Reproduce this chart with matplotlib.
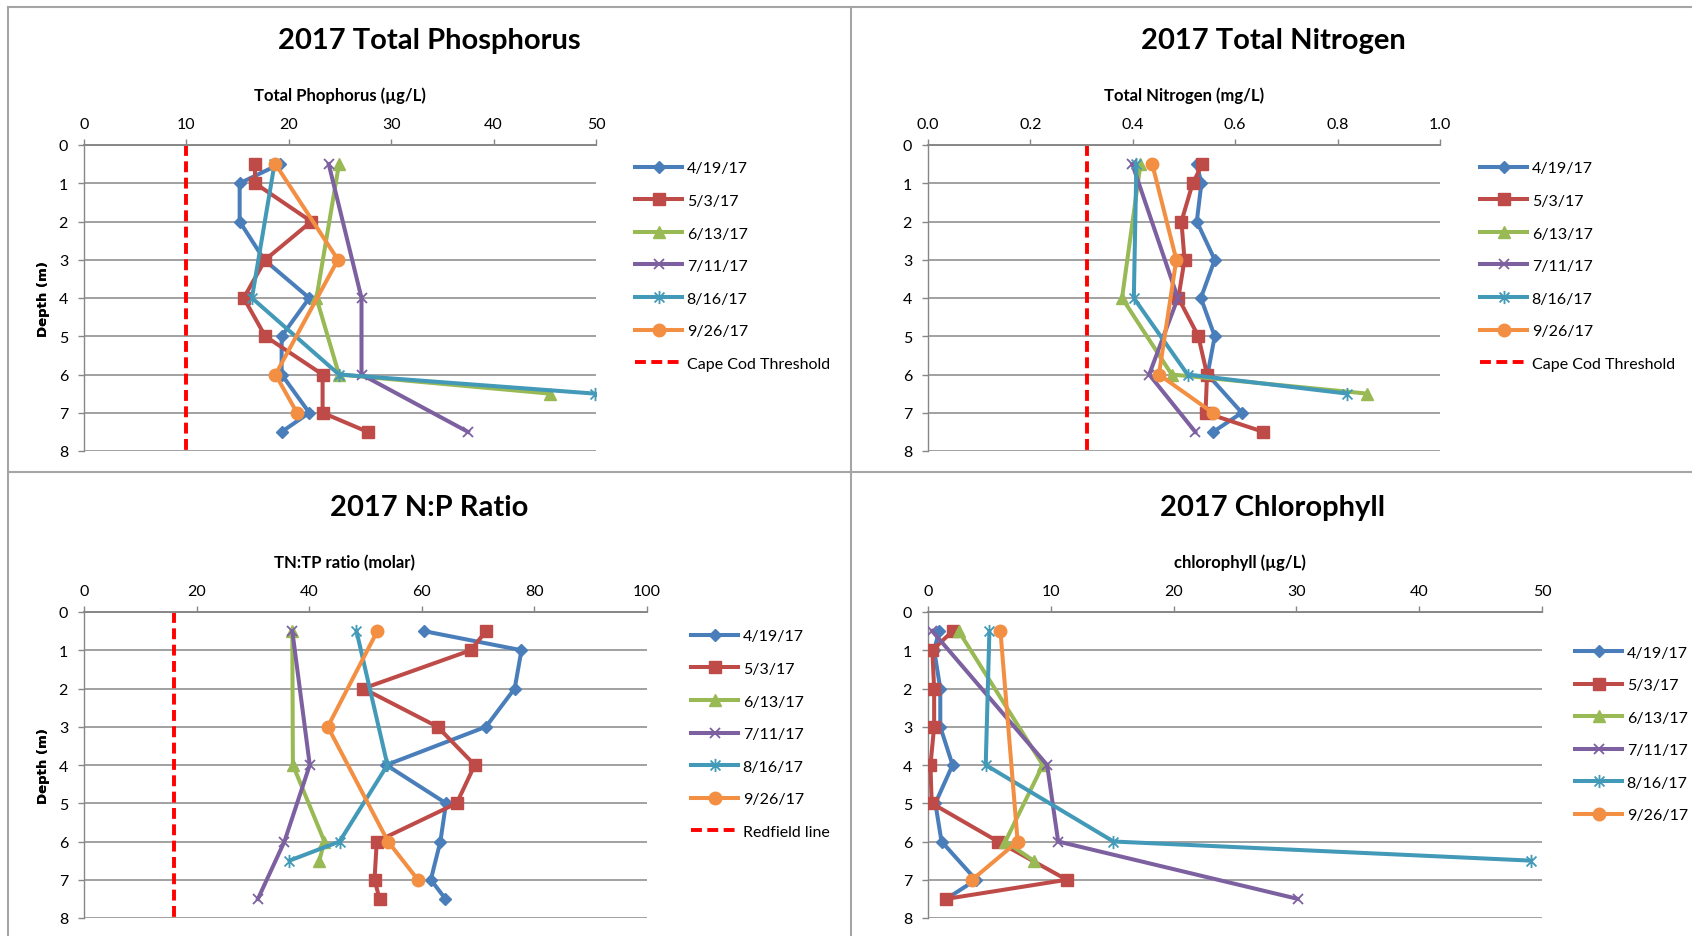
import matplotlib
matplotlib.use("Agg")
import matplotlib.pyplot as plt
from matplotlib.path import Path
from matplotlib.lines import Line2D

plt.rcParams['font.family'] = ['Lato', 'DejaVu Sans']

# ---- data ----
dates = ['4/19/17', '5/3/17', '6/13/17', '7/11/17', '8/16/17', '9/26/17']

depth_full = [0.5, 1, 2, 3, 4, 5, 6, 7, 7.5]
depth_jun = [0.5, 4, 6, 6.5]
depth_jul = [0.5, 4, 6, 7.5]
depth_aug = [0.5, 4, 6, 6.5]
depth_sep = [0.5, 3, 6, 7]
depth_sep_chl = [0.5, 6, 7]

# total phosphorus (ug/L)
tp_apr = [19.1, 15.2, 15.2, 17.6, 22.0, 19.3, 19.3, 22.0, 19.3]
tp_may = [16.7, 16.7, 22.2, 17.7, 15.6, 17.7, 23.3, 23.3, 27.7]
tp_jun = [24.9, 22.7, 24.9, 45.5]
tp_jul = [23.9, 27.1, 27.1, 37.5]
tp_aug = [18.6, 16.4, 24.9, 49.9]
tp_sep = [18.7, 24.8, 18.7, 20.8]

# total nitrogen (mg/L)
tn_apr = [0.525, 0.534, 0.525, 0.560, 0.533, 0.560, 0.546, 0.613, 0.557]
tn_may = [0.536, 0.517, 0.495, 0.501, 0.489, 0.528, 0.545, 0.542, 0.655]
tn_jun = [0.415, 0.379, 0.476, 0.858]
tn_jul = [0.399, 0.488, 0.432, 0.522]
tn_aug = [0.407, 0.402, 0.507, 0.819]
tn_sep = [0.438, 0.485, 0.451, 0.556]

# TN:TP molar ratio
np_apr = [60.4, 77.7, 76.5, 71.4, 53.7, 64.3, 63.3, 61.6, 64.2]
np_may = [71.4, 68.7, 49.6, 62.8, 69.4, 66.2, 52.0, 51.6, 52.5]
np_jun = [37.0, 37.1, 42.7, 41.8]
np_jul = [37.0, 40.1, 35.6, 30.9]
np_aug = [48.4, 53.9, 45.4, 36.5]
np_sep = [52.1, 43.3, 54.0, 59.3]

# chlorophyll (ug/L)
chl_apr = [0.9, 0.5, 1.0, 1.0, 2.0, 0.6, 1.1, 3.9, 1.5]
chl_may = [2.0, 0.35, 0.5, 0.5, 0.2, 0.3, 5.7, 11.3, 1.5]
chl_jun = [2.5, 9.35, 6.3, 8.6]
chl_jul = [0.35, 9.7, 10.6, 30.1]
chl_aug = [5.0, 4.7, 15.1, 49.1]
chl_sep = [5.9, 7.3, 3.6]

tp_threshold = 10
tn_threshold = 0.31
redfield = 16

# ---- style ----
colors = ['#4A7EBB', '#BE4B48', '#98B954', '#7D60A0', '#4299B8', '#F38F43']
star = Path([(0, -1), (0, 1), (-0.75, -0.75), (0.75, 0.75), (-0.75, 0.75), (0.75, -0.75)],
            [Path.MOVETO, Path.LINETO, Path.MOVETO, Path.LINETO, Path.MOVETO, Path.LINETO])
markers = [dict(marker='D', ms=6.5),
           dict(marker='s', ms=8.5),
           dict(marker='^', ms=8.5),
           dict(marker='x', ms=7.5, mew=1.3),
           dict(marker=star, ms=9.5, mew=1.3, mfc='none'),
           dict(marker='o', ms=9)]
grid_col = '#878787'
W, H = 1692, 937

fig = plt.figure(figsize=(W / 100, H / 100), dpi=100)


def px_rect(l, t, r, b):
    return [l / W, 1 - b / H, (r - l) / W, (b - t) / H]


def panel(rect, title, title_xy, xlabel, xlabel_xy, xmax, xticks, xfmt, depths, series,
          thresh, thresh_label, leg_xy):
    ax = fig.add_axes(px_rect(*rect))
    for i, (d, v) in enumerate(zip(depths, series)):
        ax.plot(v, d, color=colors[i], lw=2.9, mec=colors[i], label=dates[i],
                zorder=3 + i, **markers[i])
    if thresh is not None:
        ax.plot([thresh, thresh], [0, 8], color='#FF0000', lw=2.8, dashes=(2.8, 1.4),
                label=thresh_label, zorder=2)
    ax.set_xlim(0, xmax)
    ax.set_ylim(8, 0)
    ax.set_yticks(range(0, 9))
    ax.set_xticks(xticks)
    ax.set_xticklabels([xfmt.format(t) for t in xticks])
    ax.xaxis.tick_top()
    ax.tick_params(axis='x', length=4, width=1, color=grid_col, pad=6, labelsize=11.5)
    ax.tick_params(axis='y', length=4.5, width=1, color=grid_col, pad=7, labelsize=11.5)
    ax.grid(axis='y', color=grid_col, lw=1.1)
    ax.set_axisbelow(True)
    for s in ['right', 'bottom']:
        ax.spines[s].set_visible(False)
    ax.spines['top'].set_color(grid_col)
    ax.spines['top'].set_linewidth(1.4)
    ax.spines['left'].set_color(grid_col)
    ax.spines['left'].set_linewidth(1.0)
    fig.text(title_xy[0] / W, 1 - title_xy[1] / H, title, ha='center', va='center',
             fontsize=21, fontweight='bold')
    fig.text(xlabel_xy[0] / W, 1 - xlabel_xy[1] / H, xlabel, ha='center', va='center',
             fontsize=12, fontweight='bold')
    fig.text(43 / W, 1 - (rect[1] + rect[3]) / 2 / H, 'Depth (m)', rotation=90, ha='center',
             va='center', fontsize=9.5, fontweight='bold', family='DejaVu Sans')
    ax.legend(loc='center left', bbox_to_anchor=(leg_xy[0] / W, 1 - leg_xy[1] / H),
              bbox_transform=fig.transFigure, frameon=False, fontsize=11.5, borderpad=0,
              handlelength=2.97, handletextpad=0.27, labelspacing=1.15)
    return ax


panel((84, 146, 596, 452), '2017 Total Phosphorus', (429, 41),
      'Total Phophorus (\u00b5g/L)', (340, 96), 50, range(0, 51, 10), '{:d}',
      [depth_full, depth_full, depth_jun, depth_jul, depth_aug, depth_sep],
      [tp_apr, tp_may, tp_jun, tp_jul, tp_aug, tp_sep],
      tp_threshold, 'Cape Cod Threshold', (627, 267))

panel((928, 146, 1440, 452), '2017 Total Nitrogen', (1273, 41),
      'Total Nitrogen (mg/L)', (1184, 96), 1.0, [0, 0.2, 0.4, 0.6, 0.8, 1.0], '{:.1f}',
      [depth_full, depth_full, depth_jun, depth_jul, depth_aug, depth_sep],
      [tn_apr, tn_may, tn_jun, tn_jul, tn_aug, tn_sep],
      tn_threshold, 'Cape Cod Threshold', (1472, 267))

panel((84, 613, 647, 919), '2017 N:P Ratio', (429, 508),
      'TN:TP ratio (molar)', (345, 563), 100, range(0, 101, 20), '{:d}',
      [depth_full, depth_full, depth_jun, depth_jul, depth_aug, depth_sep],
      [np_apr, np_may, np_jun, np_jul, np_aug, np_sep],
      redfield, 'Redfield line', (683, 735))

panel((928, 613, 1542, 919), '2017 Chlorophyll', (1273, 508),
      'chlorophyll (\u00b5g/L)', (1240, 563), 50, range(0, 51, 10), '{:d}',
      [depth_full, depth_full, depth_jun, depth_jul, depth_aug, depth_sep_chl],
      [chl_apr, chl_may, chl_jun, chl_jul, chl_aug, chl_sep],
      None, None, (1567, 735))

# panel borders
border = '#A5A5A5'
for xs, ys in [((8, W), (8, 8)), ((8, W), (473, 473)), ((8, 8), (8, H)), ((851, 851), (8, H))]:
    fig.add_artist(Line2D([x / W for x in xs], [1 - y / H for y in ys], color=border, lw=1.5))

fig.savefig('out.png', dpi=100)
